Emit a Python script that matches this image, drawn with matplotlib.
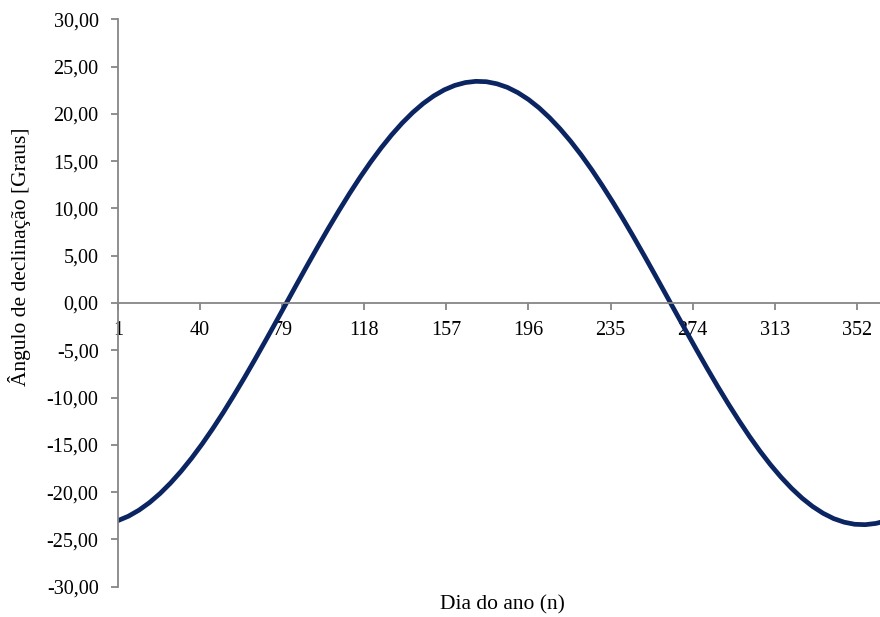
import matplotlib
matplotlib.use('Agg')
import matplotlib.pyplot as plt
from matplotlib.ticker import FuncFormatter

# day of year and declination (degrees)
dias = [1, 6, 11, 16, 21, 26, 31, 36, 41, 46, 51, 56, 61, 66, 71, 76, 81, 86,
        91, 96, 101, 106, 111, 116, 121, 126, 131, 136, 141, 146, 151, 156,
        161, 166, 171, 176, 181, 186, 191, 196, 201, 206, 211, 216, 221, 226,
        231, 236, 241, 246, 251, 256, 261, 266, 271, 276, 281, 286, 291, 296,
        301, 306, 311, 316, 321, 326, 331, 336, 341, 346, 351, 356, 361, 365]
declinacao = [-23.01, -22.54, -21.90, -21.10, -20.14, -19.03, -17.78, -16.40,
              -14.90, -13.29, -11.58, -9.78, -7.92, -5.99, -4.02, -2.02,
              0.00, 2.02, 4.02, 5.99, 7.92, 9.78, 11.58, 13.29, 14.90, 16.40,
              17.78, 19.03, 20.14, 21.10, 21.90, 22.54, 23.01, 23.31, 23.44,
              23.40, 23.18, 22.80, 22.24, 21.52, 20.64, 19.60, 18.42, 17.11,
              15.67, 14.11, 12.44, 10.69, 8.86, 6.96, 5.01, 3.02, 1.01,
              -1.01, -3.02, -5.01, -6.96, -8.86, -10.69, -12.44, -14.11,
              -15.67, -17.11, -18.42, -19.60, -20.64, -21.52, -22.24, -22.80,
              -23.18, -23.40, -23.44, -23.31, -23.09]
x_ticks = [1, 40, 79, 118, 157, 196, 235, 274, 313, 352]
y_ticks = [-30, -25, -20, -15, -10, -5, 0, 5, 10, 15, 20, 25, 30]

plt.rcParams['font.family'] = ['Liberation Serif', 'DejaVu Serif']
plt.rcParams['font.size'] = 14.5

fig = plt.figure(figsize=(8.8, 6.17), dpi=100)
ax = fig.add_axes([118 / 880, 30.3 / 617, 1 - 118 / 880, 567.4 / 617])

ax.plot(dias, declinacao, color='#0b2462', lw=3.4, solid_joinstyle='round')

ax.set_xlim(1, 363)
ax.set_ylim(-30, 30)
ax.set_xticks(x_ticks)
ax.set_yticks(y_ticks)
ax.yaxis.set_major_formatter(FuncFormatter(lambda v, p: f'{v:.2f}'.replace('.', ',')))

gray = '#868686'
for s in ['top', 'right']:
    ax.spines[s].set_visible(False)
ax.spines['bottom'].set_position(('data', 0))
ax.spines['bottom'].set_color(gray)
ax.spines['left'].set_color(gray)
ax.spines['bottom'].set_linewidth(1.3)
ax.spines['left'].set_linewidth(1.3)
ax.tick_params(axis='both', colors=gray, labelcolor='black', length=5, width=1.3)
ax.tick_params(axis='y', pad=9)
ax.tick_params(axis='x', pad=8)

fig.text(502.5 / 880, 1 - 605 / 617, 'Dia do ano (n)', ha='center', va='center', fontsize=15.5)
fig.text(20 / 880, 1 - 257 / 617, 'Ângulo de declinação [Graus]', ha='center', va='center',
         rotation=90, fontsize=15.5)

fig.savefig('out.png', dpi=100)
